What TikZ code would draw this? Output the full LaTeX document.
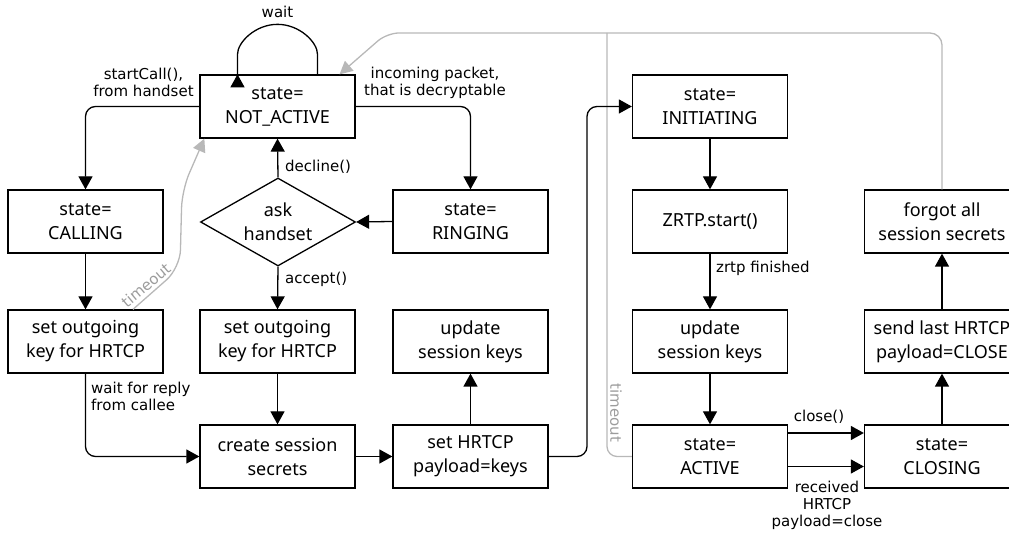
\documentclass[tikz,border=0pt]{standalone}
\usepackage{fontspec}
\usetikzlibrary{shapes.geometric,arrows.meta}
\newfontfamily\boxfont{Noto Sans}
\newfontfamily\lblfont{DejaVu Sans}
\definecolor{linegray}{HTML}{B8B8B8}
\tikzset{
  statebox/.style={draw, line width=1.3pt, minimum width=155pt, minimum height=63pt,
    inner sep=0pt, align=center, font=\boxfont\fontsize{18}{24}\selectfont},
  askbox/.style={draw, diamond, line width=1.3pt, minimum width=155pt, minimum height=88pt,
    aspect=1.76, inner sep=0pt, align=center, font=\boxfont\fontsize{18}{24}\selectfont},
  flow/.style={line width=1.3pt, -{Triangle[length=13pt,width=14pt]}, rounded corners=10pt},
  back/.style={line width=1.3pt, linegray, -{Triangle[length=13pt,width=13pt]}, rounded corners=12pt},
  backplain/.style={line width=1.3pt, linegray, rounded corners=10pt},
  lbl/.style={inner sep=0pt, align=center, font=\lblfont\fontsize{15}{17}\selectfont},
  graylbl/.style={lbl, text=linegray!85!black}
}
\begin{document}
\begin{tikzpicture}[x=1pt, y=1pt]
\path[use as bounding box, clip] (0,0) rectangle (1009,534);

% states and actions
\node[statebox] (na)     at (277.5,427.5) {state=\\NOT\_ACTIVE};
\node[statebox] (call)   at (85.5,312.5)  {state=\\CALLING};
\node[askbox]   (ask)    at (278,312)     {ask\\handset};
\node[statebox] (ring)   at (470.5,312.5) {state=\\RINGING};
\node[statebox] (out1)   at (85.5,192.5)  {set outgoing\\key for HRTCP};
\node[statebox] (out2)   at (277.5,192.5) {set outgoing\\key for HRTCP};
\node[statebox] (upd1)   at (470.5,192.5) {update\\session keys};
\node[statebox] (create) at (277.5,77.5)  {create session\\secrets};
\node[statebox] (seth)   at (470.5,77.5)  {set HRTCP\\payload=keys};
\node[statebox] (init)   at (710,427.5)   {state=\\INITIATING};
\node[statebox] (zrtp)   at (710,312.5)   {ZRTP.start()};
\node[statebox] (upd2)   at (710,192.5)   {update\\session keys};
\node[statebox] (act)    at (710,77.5)    {state=\\ACTIVE};
\node[statebox] (closing) at (942,77.5)   {state=\\CLOSING};
\node[statebox] (send)   at (942,192.5)   {send last HRTCP\\payload=CLOSE};
\node[statebox] (forgot) at (942,312.5)   {forgot all\\session secrets};

% junction points of the grey return paths
\coordinate (topright) at (942,501);
\coordinate (topleft)  at (387,501);
\coordinate (tjoin)    at (607,501);

% grey return paths
\draw[back] (forgot.north) -- (topright) -- (topleft) -- ([xshift=62pt]na.north);
\draw[backplain] (act.west) -- (607,77.5) -- (tjoin);
\node[graylbl, rotate=-90] (tout2) at (616,121) {timeout};
\draw[back, rounded corners=18pt] ([xshift=47.5pt]out1.north) -- (180,266) -- (182,344) -- ([xshift=5pt]na.south west);
\node[graylbl, rotate=40] (tout1) at (146,249) {timeout};

% self loop on NOT_ACTIVE
\draw[flow] ([xshift=40pt]na.north) -- ++(0,10) arc[start angle=0, end angle=180, radius=40] -- ([xshift=-40pt]na.north);
\node[lbl] (wait) at (277.5,522) {wait};

% call set-up
\draw[flow] (na.west) -- (85.5,427.5) -- (call.north);
\node[lbl] (lstart) at (143.5,452) {startCall(),\\from handset};
\draw[flow] (na.east) -- (470.5,427.5) -- (ring.north);
\node[lbl] (lincoming) at (435,451) {incoming packet,\\that is decryptable};
\draw[flow] (ring.west) -- (ask.east);
\draw[flow] (ask.north) -- (na.south);
\node[lbl, anchor=west] (ldecline) at (285,367) {decline()};
\draw[flow] (ask.south) -- (out2.north);
\node[lbl, anchor=west] (laccept) at (285,255) {accept()};
\draw[flow] (call.south) -- (out1.north);
\draw[flow] (out1.south) -- (85.5,77.5) -- (create.west);
\node[lbl, anchor=west, align=left] (lwait) at (91,137.5) {wait for reply\\from callee};
\draw[flow] (out2.south) -- (create.north);
\draw[flow] (create.east) -- (seth.west);
\draw[flow] (seth.north) -- (upd1.south);
\draw[flow] (seth.east) -- (587,77.5) -- (587,427.5) -- (init.west);

% active session
\draw[flow] (init.south) -- (zrtp.north);
\draw[flow] (zrtp.south) -- (upd2.north);
\node[lbl, anchor=west] (lzrtp) at (716,266) {zrtp finished};
\draw[flow] (upd2.south) -- (act.north);
\draw[flow] ([yshift=23.5pt]act.east) -- ([yshift=23.5pt]closing.west);
\node[lbl] (lclose) at (819,117) {close()};
\draw[flow] ([yshift=-10pt]act.east) -- ([yshift=-10pt]closing.west);
\node[lbl] (lrecv) at (827,29) {received\\HRTCP\\payload=close};
\draw[flow] (closing.north) -- (send.south);
\draw[flow] (send.north) -- (forgot.south);
\end{tikzpicture}
\end{document}
